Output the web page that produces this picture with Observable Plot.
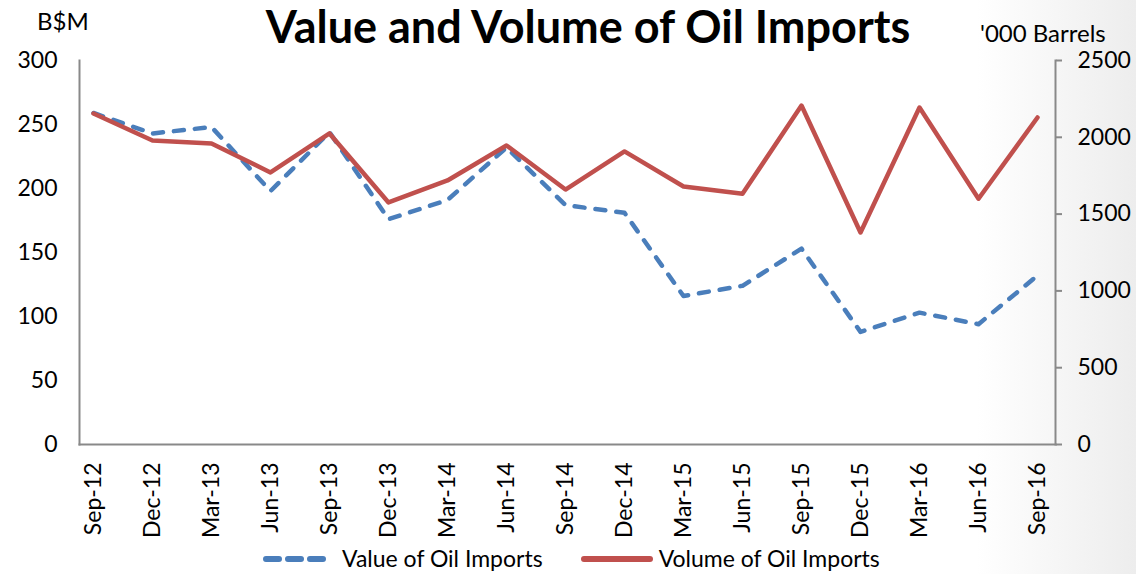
<!DOCTYPE html>
<html><head><meta charset="utf-8">
<script src="https://cdn.jsdelivr.net/npm/d3@7"></script>
<script src="https://cdn.jsdelivr.net/npm/@observablehq/plot@0.6"></script>
<style>
body{margin:0;background:#fff;font-family:Lato,"Open Sans",sans-serif;}
#wrap{position:relative;width:1136px;height:574px;overflow:hidden;background:linear-gradient(to right,#fff 0%,#fff 86%,#ededed 100%);}
#chart{position:absolute;left:0;top:0;}
.lbl{position:absolute;white-space:nowrap;color:#000;line-height:1;}
#title{left:0;width:1176px;top:4px;text-align:center;font-weight:bold;font-size:45px;}
#lunit{left:37px;top:9px;font-size:24px;}
#runit{left:980px;top:21px;font-size:24px;}
#legend{left:263px;top:547px;font-size:23px;display:flex;align-items:center;}
#legend svg{display:block;}
</style></head><body>
<div id="wrap">
<div id="chart"></div>
<div class="lbl" id="title">Value and Volume of Oil Imports</div>
<div class="lbl" id="lunit">B$M</div>
<div class="lbl" id="runit">'000 Barrels</div>
<div class="lbl" id="legend">
  <svg width="66" height="12"><line x1="3" y1="6" x2="63" y2="6" stroke="#4A7EBB" stroke-width="6" stroke-linecap="round" stroke-dasharray="13,9"/></svg>
  <span style="margin-left:13px">Value of Oil Imports</span>
  <svg width="72" height="12" style="margin-left:38px"><line x1="3" y1="6" x2="69" y2="6" stroke="#C0504D" stroke-width="6" stroke-linecap="round"/></svg>
  <span style="margin-left:6px">Volume of Oil Imports</span>
</div>
</div>
<script>
const periods = ["Sep-12","Dec-12","Mar-13","Jun-13","Sep-13","Dec-13","Mar-14","Jun-14","Sep-14","Dec-14","Mar-15","Jun-15","Sep-15","Dec-15","Mar-16","Jun-16","Sep-16"];
const valueBsm = [259, 243, 248, 198, 244, 176, 191, 232, 187, 181, 116, 124, 153, 88, 103, 94, 132];
const volumeKbbl = [2155, 1979, 1960, 1771, 2025, 1576, 1719, 1947, 1660, 1908, 1680, 1632, 2207, 1380, 2194, 1600, 2129];
const leftTicks = [0, 50, 100, 150, 200, 250, 300];
const rightTicks = [0, 500, 1000, 1500, 2000, 2500];
const leftMax = 300, rightMax = 2500;
const k = leftMax / rightMax;

const rows = periods.map((p, i) => ({period: p, value: valueBsm[i], volume: volumeKbbl[i]}));
const axisGrey = "#898989";

const chart = Plot.plot({
  width: 1136, height: 574,
  marginTop: 60, marginBottom: 130, marginLeft: 79, marginRight: 81,
  style: {background: "transparent", fontFamily: "Lato, 'Open Sans', sans-serif", color: "#000", overflow: "visible"},
  x: {type: "point", domain: periods, padding: 0, insetLeft: 8, insetRight: 12},
  y: {domain: [0, leftMax]},
  marks: [
    Plot.axisY(leftTicks, {anchor: "left", tickSize: 0, tickPadding: 22, fontSize: 23, label: null}),
    Plot.axisY(rightTicks.map(t => t * k), {anchor: "right", tickSize: 6, tickPadding: 16, fontSize: 23, stroke: axisGrey, strokeWidth: 2, tickFormat: d => String(Math.round(d / k)), label: null}),
    Plot.axisX({tickSize: 0, tickPadding: 18, tickRotate: -90, fontSize: 23, label: null}),
    Plot.frame({anchor: "left", stroke: axisGrey, strokeWidth: 2}),
    Plot.frame({anchor: "right", stroke: axisGrey, strokeWidth: 2}),
    Plot.frame({anchor: "bottom", stroke: axisGrey, strokeWidth: 2}),
    Plot.line(rows, {x: "period", y: "value", stroke: "#4A7EBB", strokeWidth: 4.5, strokeDasharray: "10,11", strokeLinecap: "round", strokeLinejoin: "round"}),
    Plot.line(rows, {x: "period", y: d => d.volume * k, stroke: "#C0504D", strokeWidth: 4.5, strokeLinejoin: "round"})
  ]
});
document.getElementById("chart").appendChild(chart);
</script>
</body></html>
